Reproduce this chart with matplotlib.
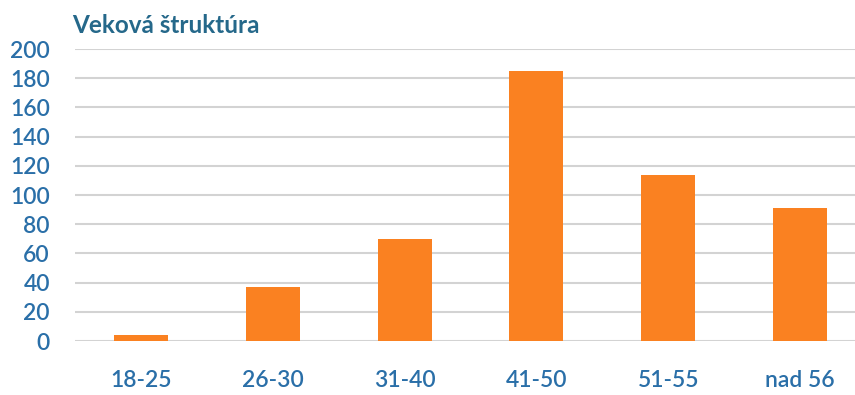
import matplotlib
matplotlib.use("Agg")
import matplotlib.pyplot as plt

categories = ["18-25", "26-30", "31-40", "41-50", "51-55", "nad 56"]
counts = [4, 37, 70, 185, 114, 91]
y_ticks = [0, 20, 40, 60, 80, 100, 120, 140, 160, 180, 200]
title = "Veková štruktúra"

plt.rcParams["font.family"] = ["Lato", "DejaVu Sans"]

label_color = "#2A6FA8"
bar_color = "#FA8121"
grid_color = "#D3D3D3"

fig = plt.figure(figsize=(8.55, 3.95), dpi=100)
ax = fig.add_axes([75 / 855, (395 - 341) / 395, (855 - 75) / 855, (341 - 49) / 395])

x = list(range(len(categories)))
ax.bar(x, counts, width=0.41, color=bar_color, zorder=3)

ax.set_xlim(-0.5, 5.417)
ax.set_ylim(0, 200)
ax.set_yticks(y_ticks)
ax.set_yticklabels([str(v) for v in y_ticks])
ax.set_xticks(x)
ax.set_xticklabels(categories)

for s in ax.spines.values():
    s.set_visible(False)
ax.yaxis.grid(True, color=grid_color, linewidth=1.5, zorder=0)
ax.set_axisbelow(True)
ax.tick_params(axis="both", length=0, labelcolor=label_color)
ax.tick_params(axis="y", pad=18, labelsize=16.5)
ax.tick_params(axis="x", pad=21, labelsize=16.5)
for lbl in ax.get_yticklabels() + ax.get_xticklabels():
    lbl.set_fontweight("semibold")

fig.text(72 / 855, 1 - 33 / 395, title, fontsize=17.5, fontweight="bold",
         color="#25688A", ha="left", va="baseline")

fig.savefig("out.png", dpi=100, facecolor="white")
